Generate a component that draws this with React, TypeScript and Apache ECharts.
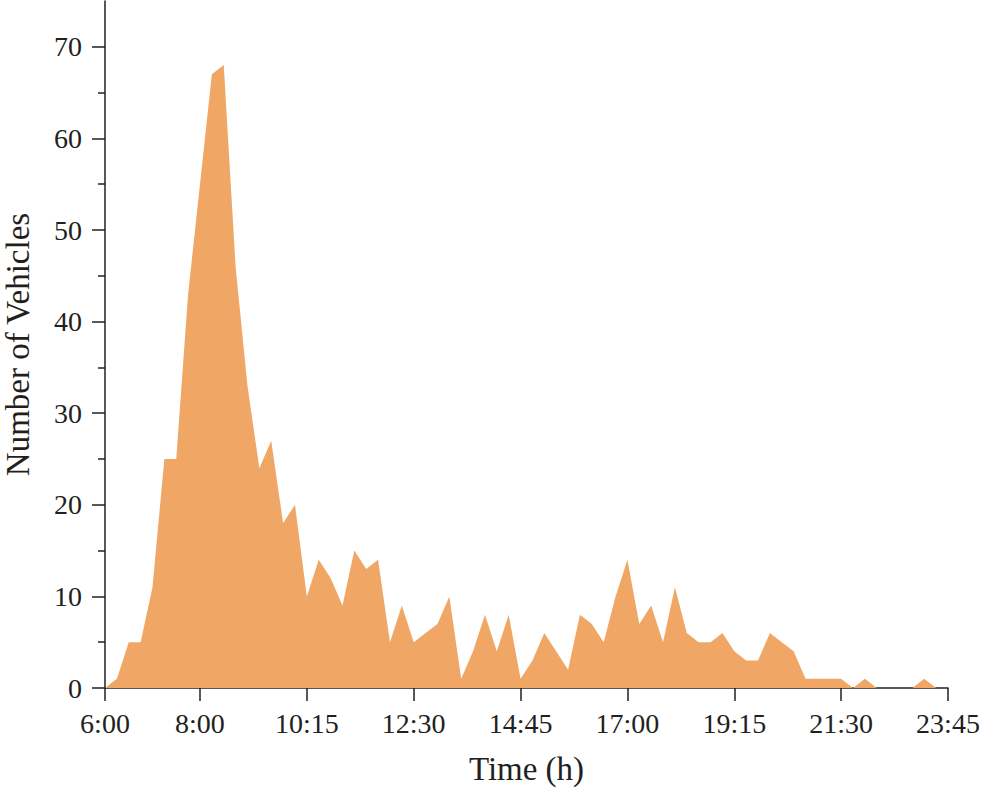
import React, { useEffect, useRef } from "react";
import * as echarts from "echarts";

const times: string[] = [
  "6:00", "6:15", "6:30", "6:45", "7:00", "7:15", "7:30", "7:45",
  "8:00", "8:15", "8:30", "8:45", "9:00", "9:15", "9:30", "9:45",
  "10:00", "10:15", "10:30", "10:45", "11:00", "11:15", "11:30", "11:45",
  "12:00", "12:15", "12:30", "12:45", "13:00", "13:15", "13:30", "13:45",
  "14:00", "14:15", "14:30", "14:45", "15:00", "15:15", "15:30", "15:45",
  "16:00", "16:15", "16:30", "16:45", "17:00", "17:15", "17:30", "17:45",
  "18:00", "18:15", "18:30", "18:45", "19:00", "19:15", "19:30", "19:45",
  "20:00", "20:15", "20:30", "20:45", "21:00", "21:15", "21:30", "21:45",
  "22:00", "22:15", "22:30", "22:45", "23:00", "23:15", "23:30", "23:45",
];

const vehicles: number[] = [
  0, 1, 5, 5, 11, 25, 25, 43,
  55, 67, 68, 46, 33, 24, 27, 18,
  20, 10, 14, 12, 9, 15, 13, 14,
  5, 9, 5, 6, 7, 10, 1, 4,
  8, 4, 8, 1, 3, 6, 4, 2,
  8, 7, 5, 10, 14, 7, 9, 5,
  11, 6, 5, 5, 6, 4, 3, 3,
  6, 5, 4, 1, 1, 1, 1, 0,
  1, 0, 0, 0, 0, 1, 0, 0,
];

const xTickLabels: string[] = ["6:00", "8:00", "10:15", "12:30", "14:45", "17:00", "19:15", "21:30", "23:45"];
const yMajorTicks: number[] = [0, 10, 20, 30, 40, 50, 60, 70];
const yMinorTicks: number[] = [5, 15, 25, 35, 45, 55, 65];

const FONT = "'Liberation Serif', 'Times New Roman', serif";
const INK = "#231f20";

export default function App() {
  const ref = useRef<HTMLDivElement>(null);

  useEffect(() => {
    document.body.style.margin = "0";
    if (!ref.current) return;
    const chart = echarts.init(ref.current, undefined, { renderer: "svg" });
    const isTick = (_i: number, v: string) => xTickLabels.includes(v);
    chart.setOption({
      animation: false,
      backgroundColor: "#ffffff",
      grid: { left: 105, right: 34, top: 1, bottom: 100, containLabel: false, outerBoundsMode: "none" },
      xAxis: {
        type: "category",
        data: times,
        boundaryGap: false,
        name: "Time (h)",
        nameLocation: "middle",
        nameGap: 64,
        nameTextStyle: { fontFamily: FONT, fontSize: 33, color: INK },
        axisLine: { show: true, lineStyle: { color: INK, width: 1.5 } },
        axisTick: { show: true, interval: isTick, length: 13, inside: false, lineStyle: { color: INK, width: 1.5 } },
        axisLabel: { interval: isTick, margin: 21, fontFamily: FONT, fontSize: 28, color: INK },
        splitLine: { show: false },
      },
      yAxis: [
        {
          type: "value",
          min: 0,
          max: 75,
          name: "Number of Vehicles",
          nameLocation: "middle",
          nameGap: 71,
          nameTextStyle: { fontFamily: FONT, fontSize: 33, color: INK },
          axisLine: { show: true, lineStyle: { color: INK, width: 1.5 } },
          axisTick: { show: true, customValues: yMajorTicks, length: 13, lineStyle: { color: INK, width: 1.5 } },
          axisLabel: { customValues: yMajorTicks, margin: 23, fontFamily: FONT, fontSize: 28, color: INK },
          splitLine: { show: false },
        },
        {
          type: "value",
          min: 0,
          max: 75,
          position: "left",
          axisLine: { show: false },
          axisTick: { show: true, customValues: yMinorTicks, length: 7, lineStyle: { color: INK, width: 1.5 } },
          axisLabel: { show: false },
          splitLine: { show: false },
        },
      ],
      series: [
        {
          type: "line",
          data: vehicles,
          yAxisIndex: 0,
          symbol: "none",
          lineStyle: { width: 0 },
          areaStyle: { color: "#f0a766", opacity: 1 },
          itemStyle: { color: "#f0a766" },
          z: 1,
        },
      ],
    });
    return () => chart.dispose();
  }, []);

  return <div ref={ref} style={{ width: 982, height: 788 }} />;
}
